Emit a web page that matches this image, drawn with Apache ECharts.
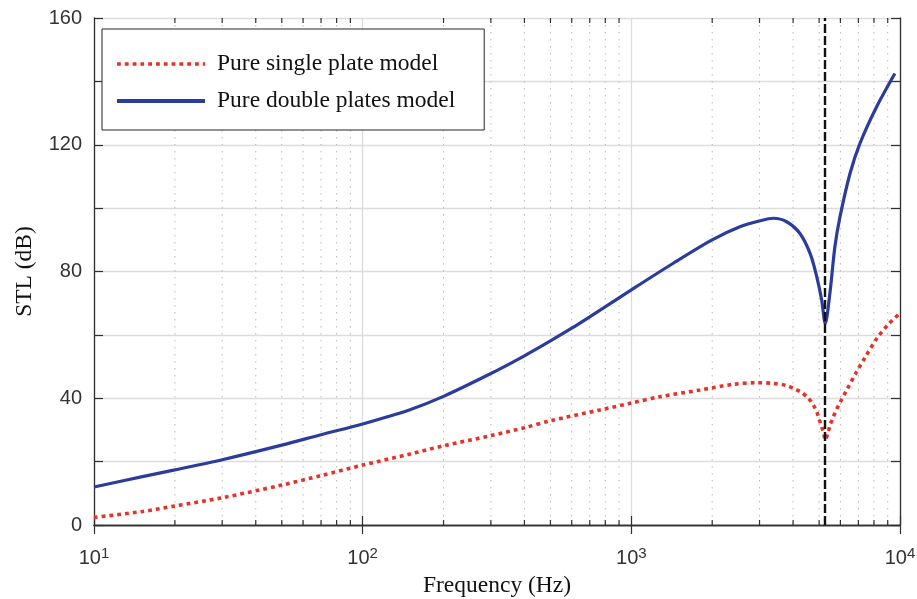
<!DOCTYPE html>
<html><head><meta charset="utf-8">
<script src="https://cdn.jsdelivr.net/npm/echarts@6/dist/echarts.min.js"></script>
<style>html,body{margin:0;padding:0;background:#fff}#c{width:917px;height:599px}</style>
</head><body><div id="c"></div>
<script>
// ---- data ----
const singleFreq = [10, 15, 20, 30, 50, 70, 100, 150, 200, 300, 400, 500, 764, 989, 1280, 1805, 2395, 2925, 3376, 3784, 4064, 4304, 4560, 4755, 4898, 5001, 5110, 5210, 5270, 5408, 5483, 5650, 5808, 5981, 6371, 6858, 7400, 8186, 9060, 10000];
const singleSTL  = [2.4, 4.2, 6.0, 8.6, 12.6, 15.6, 18.9, 22.4, 25.0, 28.2, 30.7, 32.9, 36.3, 38.4, 40.5, 42.6, 44.4, 44.9, 44.7, 44.0, 42.9, 41.8, 40.0, 37.9, 35.8, 33.4, 31.0, 28.7, 26.8, 29.4, 31.4, 34.2, 36.5, 38.6, 43.0, 48.0, 52.8, 58.8, 63.4, 66.8];

const doubleFreq = [10, 15, 20, 30, 50, 70, 100, 150, 200, 300, 400, 500, 600, 700, 1000, 1432, 1991, 2535, 3013, 3376, 3784, 4243, 4627, 4898, 5110, 5270, 5483, 5724, 5981, 6519, 7101, 8186, 9570];
const doubleSTL  = [12.0, 15.2, 17.4, 20.6, 25.2, 28.5, 31.9, 36.4, 40.6, 47.8, 53.4, 58.1, 62.1, 65.7, 74.2, 82.6, 89.9, 94.1, 96.0, 96.8, 95.7, 92.0, 85.7, 78.4, 71.0, 63.6, 73.1, 87.8, 97.3, 111.0, 120.5, 132.0, 142.5];

const coincidenceFreq = 5260;

const xMajorExp = [1, 2, 3, 4];
const xMinorTicks = [20, 30, 40, 50, 60, 70, 80, 90, 200, 300, 400, 500, 600, 700, 800, 900, 2000, 3000, 4000, 5000, 6000, 7000, 8000, 9000];
const yTickStep = 20;
const yLabelStep = 40;

const seriesNames = ['Pure single plate model', 'Pure double plates model'];

// ---- chart ----
const SERIF = '"Liberation Serif", "Times New Roman", serif';
const SANS = '"Liberation Sans", Arial, sans-serif';
const AX = '#303030';
const RED = '#e5332a';
const BLUE = '#2b3d9c';

const chart = echarts.init(document.getElementById('c'), null, {renderer: 'canvas'});

const commonX = {
  type: 'log', logBase: 10,
  min: Math.pow(10, xMajorExp[0]), max: Math.pow(10, xMajorExp[xMajorExp.length - 1]),
  interval: 1,
  axisLine: {show: true, lineStyle: {color: AX, width: 1.3}},
  axisTick: {show: true, inside: true, length: 9, lineStyle: {color: AX, width: 1.2}},
  minorTick: {show: false},
  splitLine: {show: false}
};
const commonY = {
  type: 'value', min: 0, max: 160, interval: yTickStep,
  axisLine: {show: true, lineStyle: {color: AX, width: 1.3}},
  axisTick: {show: true, inside: true, length: 9, lineStyle: {color: AX, width: 1.2}},
  splitLine: {show: false}
};

const option = {
  animation: false,
  backgroundColor: '#fff',
  grid: {left: 94, right: 17, top: 18, bottom: 74, containLabel: false, outerBoundsMode: 'none'},
  legend: {
    data: [
      {name: seriesNames[0], lineStyle: {width: 3.6, type: [3.8, 4], color: RED, cap: 'butt'}, itemStyle: {opacity: 0}},
      {name: seriesNames[1], lineStyle: {width: 4, color: BLUE}, itemStyle: {opacity: 0}}
    ],
    orient: 'vertical',
    left: 102, top: 29,
    itemWidth: 88, itemHeight: 14, itemGap: 13,
    padding: [23, 29, 17, 13],
    borderColor: '#262626', borderWidth: 1,
    backgroundColor: '#fff',
    itemStyle: {opacity: 0},
    textStyle: {fontFamily: SERIF, fontSize: 23.5, color: '#111', lineHeight: 24, padding: [0, 0, 0, 7]}
  },
  xAxis: [
    Object.assign({}, commonX, {
      position: 'bottom',
      name: 'Frequency (Hz)', nameLocation: 'middle', nameGap: 49,
      nameTextStyle: {fontFamily: SERIF, fontSize: 23.5, color: '#111'},
      splitLine: {show: true, lineStyle: {color: '#dcdcdc', width: 1.3}},
      axisLabel: {
        show: true, margin: 21,
        formatter: function (v) { return '{b|10}{s|' + Math.round(Math.log10(v)) + '}'; },
        rich: {
          b: {fontFamily: SANS, fontSize: 20, color: '#333', lineHeight: 24},
          s: {fontFamily: SANS, fontSize: 15, color: '#333', lineHeight: 8, verticalAlign: 'top'}
        }
      }
    }),
    Object.assign({}, commonX, {position: 'top', axisLabel: {show: false}})
  ],
  yAxis: [
    Object.assign({}, commonY, {
      position: 'left',
      name: 'STL (dB)', nameLocation: 'middle', nameGap: 57, nameRotate: 90,
      nameTextStyle: {fontFamily: SERIF, fontSize: 23.5, color: '#111'},
      splitLine: {show: true, lineStyle: {color: '#dcdcdc', width: 1.3}},
      axisLabel: {
        show: true, margin: 12, fontFamily: SANS, fontSize: 20, color: '#333',
        formatter: function (v) { return v % yLabelStep === 0 ? String(v) : ''; }
      }
    }),
    Object.assign({}, commonY, {position: 'right', axisLabel: {show: false}})
  ],
  series: [
    {
      type: 'custom',
      name: 'minorGrid',
      xAxisIndex: 0, yAxisIndex: 0,
      silent: true, z: 1,
      data: xMinorTicks.map(v => [v, 0]),
      encode: {x: 0, y: 1},
      renderItem: function (params, api) {
        const p = api.coord([api.value(0), 0]);
        const cs = params.coordSys;
        const top = cs.y, bottom = cs.y + cs.height;
        return {
          type: 'group',
          children: [
            {type: 'line', shape: {x1: p[0], y1: top, x2: p[0], y2: bottom},
             style: {stroke: '#b8b8b8', lineWidth: 1, lineDash: [1.5, 5.5]}},
            {type: 'line', shape: {x1: p[0], y1: bottom, x2: p[0], y2: bottom - 5},
             style: {stroke: AX, lineWidth: 1.2}},
            {type: 'line', shape: {x1: p[0], y1: top, x2: p[0], y2: top + 5},
             style: {stroke: AX, lineWidth: 1.2}}
          ]
        };
      }
    },
    {
      name: seriesNames[0], type: 'line', xAxisIndex: 0, yAxisIndex: 0,
      data: singleFreq.map((f, i) => [f, singleSTL[i]]),
      symbol: 'none', smooth: 0.3, z: 3,
      itemStyle: {color: RED},
      lineStyle: {color: RED, width: 3.6, type: [3.8, 4], cap: 'butt'}
    },
    {
      name: seriesNames[1], type: 'line', xAxisIndex: 0, yAxisIndex: 0,
      data: doubleFreq.map((f, i) => [f, doubleSTL[i]]),
      symbol: 'none', smooth: 0.3, z: 4,
      itemStyle: {color: BLUE},
      lineStyle: {color: BLUE, width: 3.2},
      markLine: {
        silent: true, symbol: ['none', 'none'], label: {show: false},
        lineStyle: {color: '#111', type: [9, 3], width: 2.4},
        emphasis: {disabled: true},
        data: [{xAxis: coincidenceFreq}]
      }
    }
  ]
};
chart.setOption(option);
</script>
</body></html>
